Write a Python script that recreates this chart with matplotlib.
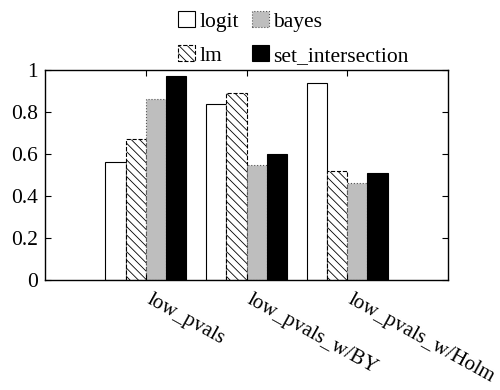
import matplotlib
matplotlib.use("Agg")
import matplotlib.pyplot as plt
import numpy as np

categories = ["low_pvals", "low_pvals_w/BY", "low_pvals_w/Holm"]
series_names = ["logit", "lm", "bayes", "set_intersection"]
logit = [0.56, 0.84, 0.94]
lm = [0.67, 0.89, 0.52]
bayes = [0.86, 0.55, 0.46]
set_intersection = [0.97, 0.60, 0.51]
yticks = [0, 0.2, 0.4, 0.6, 0.8, 1]
ytick_labels = ["0", "0.2", "0.4", "0.6", "0.8", "1"]

plt.rcParams['font.family'] = ['Liberation Serif', 'DejaVu Serif']
plt.rcParams['hatch.linewidth'] = 0.6

fig = plt.figure(figsize=(5, 3.9), dpi=100)
ax = fig.add_axes([45/500, 1-280/390, 403/500, 210/390])

x = np.arange(len(categories))
w = 0.2
styles = [
    dict(facecolor='white', edgecolor='black', linestyle='-', hatch=None),
    dict(facecolor='white', edgecolor='black', linestyle='--', hatch='\\\\\\\\'),
    dict(facecolor='#bebebe', edgecolor='#555555', linestyle=':', hatch=None),
    dict(facecolor='black', edgecolor='black', linestyle='-', hatch=None),
]
data = [logit, lm, bayes, set_intersection]
for i, (name, vals, st) in enumerate(zip(series_names, data, styles)):
    ax.bar(x + (i - 1.5) * w, vals, w, label=name, linewidth=0.8, **st)

ax.set_xlim(-1, 3)
ax.set_ylim(0, 1)
ax.set_yticks(yticks)
ax.set_yticklabels(ytick_labels, fontsize=15.5)
ax.set_xticks(x)
ax.set_xticklabels(categories, fontsize=15, rotation=-29, ha='left',
                   rotation_mode='anchor', va='baseline')
ax.tick_params(direction='in', top=True, right=True, length=4, width=0.8)
ax.tick_params(axis='x', pad=16)
ax.tick_params(axis='y', pad=5)
for s in ax.spines.values():
    s.set_linewidth(1.0)
for lbl in ax.get_xticklabels():
    lbl.set_x(lbl.get_position()[0] - 0.03)

fig.legend(loc='upper left', bbox_to_anchor=(178/500, 1-11/390), ncol=2, frameon=False,
           fontsize=15.5, handlelength=0.79, handleheight=0.79, handletextpad=0.23,
           columnspacing=0.56, labelspacing=0.62, borderaxespad=0, borderpad=0)

fig.savefig("out.png", dpi=100)
